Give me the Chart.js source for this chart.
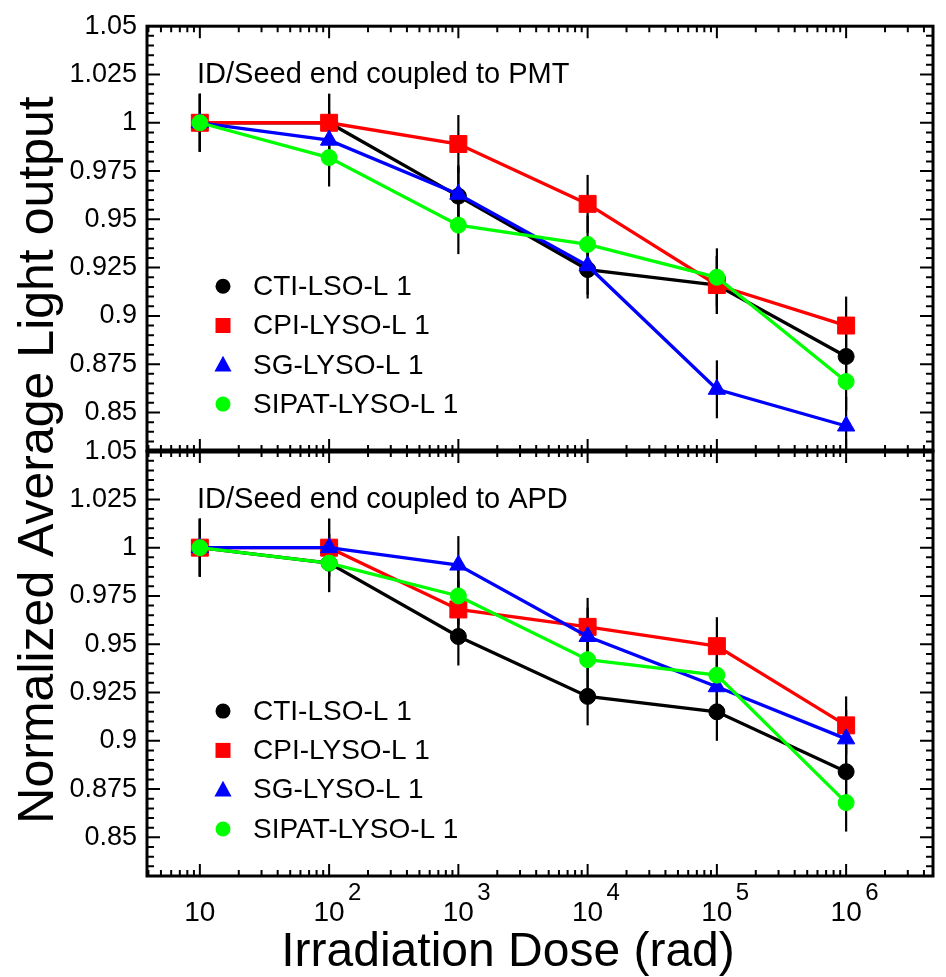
<!DOCTYPE html>
<html><head><meta charset="utf-8">
<script src="https://cdn.jsdelivr.net/npm/chart.js@4.4.0/dist/chart.umd.min.js"></script>
<style>html,body{margin:0;padding:0;background:#fff;}#wrap{position:relative;width:946px;height:977px;}</style>
</head><body><div id="wrap"><canvas id="c" width="946" height="977"></canvas></div>
<script>
// ---------- data ----------
const DOSES = [10, 100, 1000, 10000, 100000, 1000000];
const X_TICKS = [10, 100, 1000, 10000, 100000, 1000000];
const X_EXPONENTS = ['', '2', '3', '4', '5', '6'];
const Y_TICKS = [0.85, 0.875, 0.9, 0.925, 0.95, 0.975, 1, 1.025, 1.05];
const SERIES = ['CTI-LSO-L 1', 'CPI-LYSO-L 1', 'SG-LYSO-L 1', 'SIPAT-LYSO-L 1'];
const PANEL_TITLES = ['ID/Seed end coupled to PMT', 'ID/Seed end coupled to APD'];
const X_TITLE = 'Irradiation Dose (rad)';
const Y_TITLE = 'Normalized Average Light output';
// PMT panel
const pmtCTI   = [1.000, 1.000, 0.962, 0.924, 0.916, 0.879];
const pmtCPI   = [1.000, 1.000, 0.989, 0.958, 0.916, 0.895];
const pmtSG    = [1.000, 0.991, 0.963, 0.926, 0.862, 0.843];
const pmtSIPAT = [1.000, 0.982, 0.947, 0.937, 0.920, 0.866];
// APD panel
const apdCTI   = [1.000, 0.992, 0.954, 0.923, 0.915, 0.884];
const apdCPI   = [1.000, 1.000, 0.968, 0.959, 0.949, 0.908];
const apdSG    = [1.000, 1.000, 0.991, 0.954, 0.928, 0.901];
const apdSIPAT = [1.000, 0.992, 0.975, 0.942, 0.934, 0.868];
// error bars (±)
const ERR = [0.015, 0.015, 0.015, 0.015, 0.015, 0.015];

// ---------- style ----------
const FONT = '"Liberation Sans", Arial, Helvetica, sans-serif';
Chart.defaults.font.family = FONT;
Chart.defaults.color = '#000';
const COLORS = ['#000000', '#ff0000', '#0000ff', '#00ff00'];
const STYLES = ['circle', 'rect', 'triangle', 'circle'];
const RADII = [8, 12, 10, 8];
const ORDERS = [4, 3, 2, 1];

function mk(i, data, axis) {
  return {
    label: SERIES[i],
    data: data.map((v, k) => ({ x: DOSES[k], y: v })),
    values: data, errors: ERR,
    yAxisID: axis, order: ORDERS[i],
    borderColor: COLORS[i], backgroundColor: COLORS[i], borderWidth: 3.3,
    pointStyle: STYLES[i], pointRadius: RADII[i], pointHoverRadius: RADII[i],
    pointBackgroundColor: COLORS[i], pointBorderColor: COLORS[i], pointBorderWidth: 1,
    tension: 0, fill: false
  };
}
const datasets = [
  mk(0, pmtCTI, 'yTop'), mk(1, pmtCPI, 'yTop'), mk(2, pmtSG, 'yTop'), mk(3, pmtSIPAT, 'yTop'),
  mk(0, apdCTI, 'yBot'), mk(1, apdCPI, 'yBot'), mk(2, apdSG, 'yBot'), mk(3, apdSIPAT, 'yBot')
];

function yAxis() {
  return {
    type: 'linear', position: 'left', stack: 'panels', stackWeight: 1,
    min: 0.83, max: 1.05,
    afterBuildTicks: s => { s.ticks = Y_TICKS.map(v => ({ value: v })); },
    afterFit: s => { s.width = 147; },
    grid: { display: false, drawTicks: false }, border: { display: false },
    ticks: { font: { size: 27 }, color: '#000', padding: 10, autoSkip: false, callback: v => String(v) }
  };
}

function drawMarker(ctx, style, x, y, r, color) {
  ctx.fillStyle = color;
  ctx.beginPath();
  if (style === 'circle') ctx.arc(x, y, r, 0, Math.PI * 2);
  else if (style === 'rect') ctx.rect(x - r, y - r, 2 * r, 2 * r);
  else { ctx.moveTo(x, y - r); ctx.lineTo(x + r * 0.95, y + r * 0.75); ctx.lineTo(x - r * 0.95, y + r * 0.75); ctx.closePath(); }
  ctx.fill();
}

const panelPlugin = {
  id: 'panels',
  beforeDatasetsDraw(chart) {
    const ctx = chart.ctx, xs = chart.scales.x;
    ctx.save();
    ctx.strokeStyle = '#000'; ctx.lineWidth = 2.2;
    chart.data.datasets.forEach(ds => {
      const ys = chart.scales[ds.yAxisID];
      ds.values.forEach((v, i) => {
        const x = xs.getPixelForValue(DOSES[i]);
        let y1 = ys.getPixelForValue(v + ds.errors[i]);
        let y2 = ys.getPixelForValue(v - ds.errors[i]);
        y1 = Math.max(y1, ys.top); y2 = Math.min(y2, ys.bottom);
        ctx.beginPath(); ctx.moveTo(x, y1); ctx.lineTo(x, y2); ctx.stroke();
      });
    });
    ctx.restore();
  },
  afterDraw(chart) {
    const ctx = chart.ctx, xs = chart.scales.x;
    const L = xs.left, R = xs.right;
    ctx.save();
    ['yTop', 'yBot'].forEach((id, p) => {
      const ys = chart.scales[id];
      const T = ys.top, B = ys.bottom;
      ctx.strokeStyle = '#000';
      // x ticks
      ctx.lineWidth = 2;
      for (let e = 0; e <= 7; e++) {
        for (let d = 1; d <= 9; d++) {
          const v = d * Math.pow(10, e);
          if (v <= xs.min || v >= xs.max) continue;
          const x = xs.getPixelForValue(v);
          const len = d === 1 ? 12 : 6;
          ctx.beginPath();
          ctx.moveTo(x, T); ctx.lineTo(x, T + len);
          ctx.moveTo(x, B); ctx.lineTo(x, B - len);
          ctx.stroke();
        }
      }
      // y ticks
      for (let k = 166; k <= 210; k++) {
        const v = k * 0.005;
        if (v <= ys.min + 1e-9 || v >= ys.max - 1e-9) continue;
        const y = ys.getPixelForValue(v);
        const len = k % 5 === 0 ? 13 : 7;
        ctx.beginPath();
        ctx.moveTo(L, y); ctx.lineTo(L + len, y);
        ctx.moveTo(R, y); ctx.lineTo(R - len, y);
        ctx.stroke();
      }
      // frame
      ctx.lineWidth = 3;
      ctx.strokeRect(L, T, R - L, B - T);
      // panel title
      ctx.fillStyle = '#000';
      ctx.font = '29px ' + FONT;
      ctx.textAlign = 'left'; ctx.textBaseline = 'middle';
      ctx.fillText(PANEL_TITLES[p], 197, T + 49);
      // legend
      SERIES.forEach((name, i) => {
        const y = T + 260 + i * 39.3;
        const rs = [7.5, 7.5, 9, 7.5];
        drawMarker(ctx, STYLES[i], 223, y, rs[i], COLORS[i]);
        ctx.fillStyle = '#000';
        ctx.font = '28px ' + FONT;
        ctx.textAlign = 'left'; ctx.textBaseline = 'middle';
        ctx.fillText(name, 253, y + 1);
      });
    });
    // thicker shared boundary between the panels
    const yb = chart.scales.yTop.bottom;
    ctx.lineWidth = 5;
    ctx.beginPath(); ctx.moveTo(L, yb); ctx.lineTo(R, yb); ctx.stroke();
    // x tick labels with exponents
    ctx.fillStyle = '#000';
    ctx.textBaseline = 'middle';
    X_TICKS.forEach((v, i) => {
      const x = xs.getPixelForValue(v);
      ctx.font = '28px ' + FONT; ctx.textAlign = 'center';
      ctx.fillText('10', x, 913);
      if (X_EXPONENTS[i]) {
        ctx.font = '24px ' + FONT; ctx.textAlign = 'left';
        ctx.fillText(X_EXPONENTS[i], x + 19, 893);
      }
    });
    // axis titles
    ctx.font = '48px ' + FONT; ctx.textAlign = 'center'; ctx.textBaseline = 'alphabetic';
    ctx.fillText(X_TITLE, 508, 966);
    ctx.save();
    ctx.translate(53, 460); ctx.rotate(-Math.PI / 2);
    ctx.font = '50px ' + FONT; ctx.textAlign = 'center'; ctx.textBaseline = 'alphabetic';
    ctx.fillText(Y_TITLE, 0, 0);
    ctx.restore();
    ctx.restore();
  }
};

new Chart(document.getElementById('c'), {
  type: 'line',
  data: { datasets: datasets },
  options: {
    responsive: false, animation: false, devicePixelRatio: 1,
    layout: { padding: { top: 24, right: 3, left: 0, bottom: 0 } },
    plugins: { legend: { display: false }, tooltip: { enabled: false } },
    scales: {
      x: {
        type: 'logarithmic', position: 'bottom', min: 3.9, max: 4.7e6,
        afterBuildTicks: s => { s.ticks = X_TICKS.map(v => ({ value: v })); },
        afterFit: s => { s.height = 101; },
        grid: { display: false, drawTicks: false }, border: { display: false },
        ticks: { display: false }
      },
      yBot: yAxis(),
      yTop: yAxis()
    }
  },
  plugins: [panelPlugin]
});
</script>
</body></html>
